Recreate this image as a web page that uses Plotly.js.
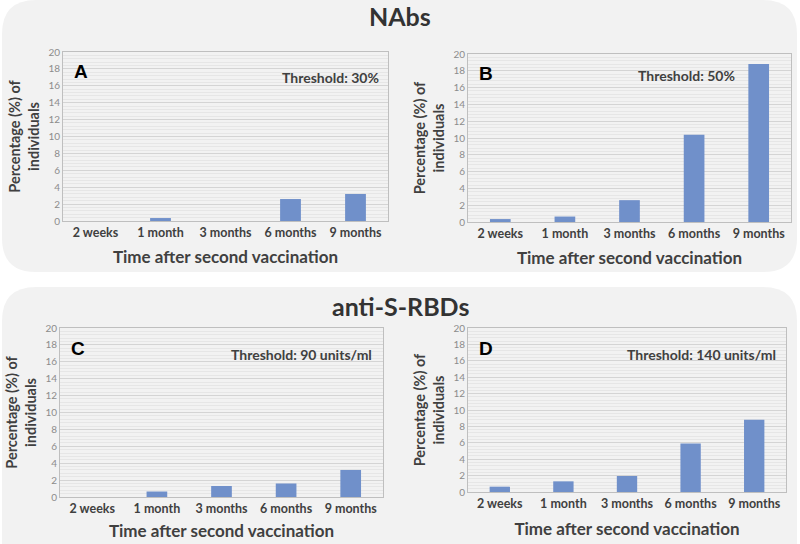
<!DOCTYPE html>
<html>
<head>
<meta charset="utf-8">
<script src="https://cdn.plot.ly/plotly-3.0.1.min.js"></script>
<style>html,body{margin:0;padding:0;background:#fff;}#chart{width:800px;height:544px;}</style>
</head>
<body>
<div id="chart"></div>
<script>
// ---- data ----
const categories = ["2 weeks", "1 month", "3 months", "6 months", "9 months"];
const valuesA = [0, 0.35, 0, 2.6, 3.2];
const valuesB = [0.35, 0.65, 2.6, 10.4, 18.8];
const valuesC = [0, 0.65, 1.3, 1.6, 3.2];
const valuesD = [0.65, 1.3, 1.95, 5.9, 8.8];
const panelLetters = ["A", "B", "C", "D"];
const thresholds = ["Threshold: 30%", "Threshold: 50%", "Threshold: 90 units/ml", "Threshold: 140 units/ml"];
const groupTitles = ["NAbs", "anti-S-RBDs"];
const yTickVals = [0, 2, 4, 6, 8, 10, 12, 14, 16, 18, 20];
const xTitle = "Time after second vaccination";
const yTitle = "Percentage (%) of<br>individuals";

// ---- layout helpers ----
const W = 800, H = 544;
const px = v => v / W;
const py = v => 1 - v / H;
const barColor = "#7090ca";
const textColor = "#404040";

const panels = [
  {vals: valuesA, x0: 63, x1: 388, y0: 52, y1: 221, tstand: 12},
  {vals: valuesB, x0: 468, x1: 791, y0: 54, y1: 222, tstand: 12},
  {vals: valuesC, x0: 60, x1: 383, y0: 328, y1: 497, tstand: 10},
  {vals: valuesD, x0: 468, x1: 786, y0: 328, y1: 492, tstand: 13}
];

const data = [];
const layout = {
  width: W, height: H,
  margin: {l: 0, r: 0, t: 0, b: 0},
  paper_bgcolor: "#ffffff",
  plot_bgcolor: "rgba(0,0,0,0)",
  showlegend: false,
  bargap: 0.68,
  shapes: [],
  annotations: []
};

function roundedRect(x0, y0, x1, y1, r) {
  const rx = r / W, ry = r / H;
  const a = px(x0), b = px(x1), t = py(y0), u = py(y1);
  return `M ${a + rx},${t} L ${b - rx},${t} Q ${b},${t} ${b},${t - ry} L ${b},${u + ry} Q ${b},${u} ${b - rx},${u} L ${a + rx},${u} Q ${a},${u} ${a},${u + ry} L ${a},${t - ry} Q ${a},${t} ${a + rx},${t} Z`;
}
layout.shapes.push({type: "path", xref: "paper", yref: "paper", layer: "below",
  path: roundedRect(2, 0, 797, 272, 34), fillcolor: "#f2f2f2", line: {width: 0}});
layout.shapes.push({type: "path", xref: "paper", yref: "paper", layer: "below",
  path: roundedRect(2, 287, 797, 575, 34), fillcolor: "#f2f2f2", line: {width: 0}});

panels.forEach((p, i) => {
  const n = i + 1;
  const xa = "xaxis" + (n === 1 ? "" : n);
  const ya = "yaxis" + (n === 1 ? "" : n);
  data.push({
    type: "bar", x: categories, y: p.vals,
    xaxis: "x" + (n === 1 ? "" : n), yaxis: "y" + (n === 1 ? "" : n),
    marker: {color: barColor, line: {width: 0}},
    hoverinfo: "x+y"
  });
  layout[xa] = {
    domain: [px(p.x0), px(p.x1)],
    anchor: "y" + (n === 1 ? "" : n),
    type: "category",
    showline: true, linecolor: "#bfbfbf", linewidth: 1, mirror: true,
    showgrid: false, zeroline: false, ticks: "",
    tickfont: {family: "Lato", size: 12.5, color: textColor, weight: "bold"},
    title: {text: xTitle, font: {family: "Lato", size: 17, color: textColor, weight: "bold"}, standoff: p.tstand},
    fixedrange: true
  };
  layout[ya] = {
    domain: [py(p.y1), py(p.y0)],
    anchor: "x" + (n === 1 ? "" : n),
    range: [0, 20], tickvals: yTickVals,
    showline: true, linecolor: "#bfbfbf", linewidth: 1, mirror: true,
    showgrid: true, gridcolor: "#d4d4d4", gridwidth: 1,
    minor: {dtick: 0.4, showgrid: true, gridcolor: "#e6e6e6", gridwidth: 1},
    zeroline: false, ticks: "",
    tickfont: {family: "Lato", size: 10, color: "#8c8c8c"},
    title: {text: yTitle, font: {family: "Lato", size: 14.5, color: textColor, weight: "bold"}, standoff: 5},
    fixedrange: true
  };
  layout.annotations.push({
    xref: "paper", yref: "paper", x: px(p.x0 + 9), y: py(p.y0 + 20),
    xanchor: "left", yanchor: "middle", showarrow: false,
    text: panelLetters[i],
    font: {family: "Liberation Sans", size: 19, color: "#000", weight: "bold"}
  });
});

const thrPos = [[381, 77], [737, 76], [374, 354], [778, 354]];
thresholds.forEach((t, i) => {
  layout.annotations.push({
    xref: "paper", yref: "paper", x: px(thrPos[i][0]), y: py(thrPos[i][1]),
    xanchor: "right", yanchor: "middle", showarrow: false, text: t,
    font: {family: "Lato", size: 14, color: textColor, weight: "bold"}
  });
});

const groupPos = [16, 306];
groupTitles.forEach((t, i) => {
  layout.annotations.push({
    xref: "paper", yref: "paper", x: 0.5, y: py(groupPos[i]),
    xanchor: "center", yanchor: "middle", showarrow: false, text: t,
    font: {family: "Lato", size: 25, color: "#333333", weight: "bold"}
  });
});

Plotly.newPlot("chart", data, layout, {displayModeBar: false, staticPlot: true});
</script>
</body>
</html>
